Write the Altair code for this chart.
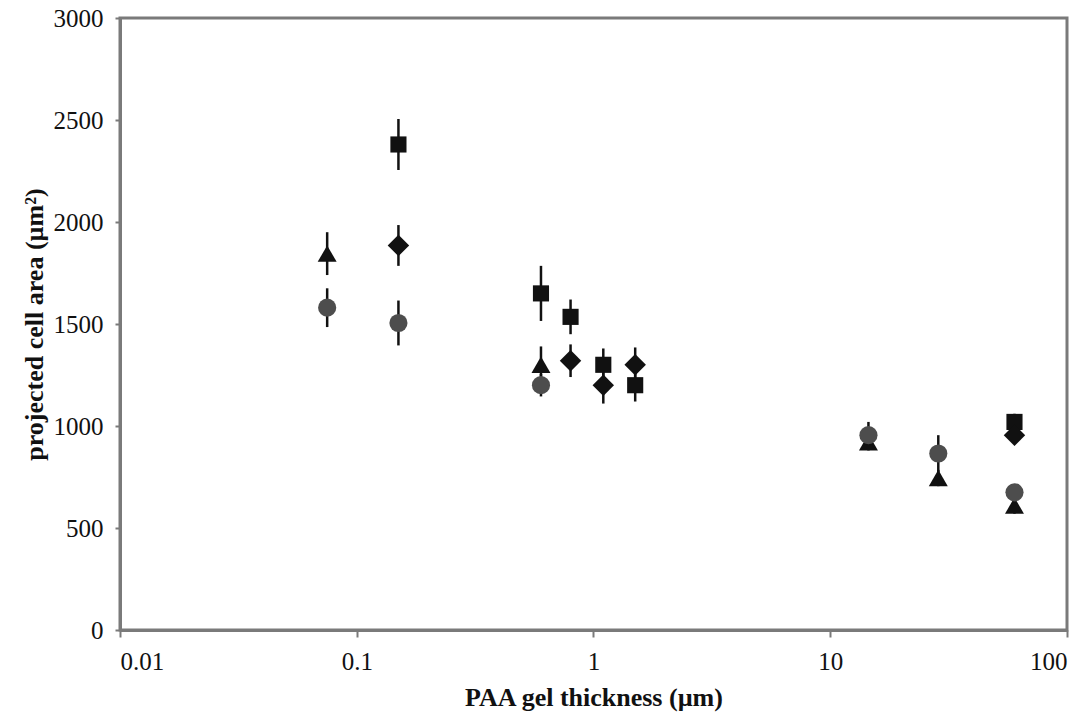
import altair as alt
import pandas as pd

# series data
series = ["square", "square", "square", "square", "square", "square",
          "diamond", "diamond", "diamond", "diamond", "diamond",
          "triangle", "triangle", "triangle", "triangle", "triangle",
          "circle", "circle", "circle", "circle", "circle", "circle"]
thickness = [0.15, 0.6, 0.8, 1.1, 1.5, 60,
             0.15, 0.8, 1.1, 1.5, 60,
             0.075, 0.6, 14.5, 28.6, 60,
             0.075, 0.15, 0.6, 14.5, 28.6, 60]
area = [2380, 1650, 1535, 1300, 1200, 1020,
        1885, 1320, 1200, 1300, 955,
        1845, 1300, 920, 745, 610,
        1580, 1505, 1200, 955, 865, 675]
err = [125, 135, 85, 80, 80, 40,
       100, 80, 90, 85, 40,
       105, 90, 40, 40, 40,
       95, 110, 55, 65, 90, 40]

df = pd.DataFrame({"series": series, "x": thickness, "y": area, "err": err})

# marker style for each series: (vega shape, colour, size)
styles = {
    "square": ("square", "#111111", 260),
    "diamond": ("diamond", "#111111", 460),
    "triangle": ("triangle-up", "#111111", 360),
    "circle": ("circle", "#4d4d4d", 330),
}

xscale = alt.Scale(type="log", domain=[0.01, 100])
yscale = alt.Scale(domain=[0, 3000], nice=False)

xaxis = alt.Axis(title="PAA gel thickness (µm)", values=[0.01, 0.1, 1, 10, 100],
                 format="~g", grid=False, tickSize=7, labelPadding=12, titlePadding=10)
yaxis = alt.Axis(title="projected cell area (µm²)", values=[0, 500, 1000, 1500, 2000, 2500, 3000],
                 format="d", grid=False, tickSize=5, labelPadding=12, titlePadding=6)

base = alt.Chart(df)

bars = base.transform_calculate(
    lo="datum.y - datum.err", hi="datum.y + datum.err"
).mark_rule(color="#111111", strokeWidth=2.5).encode(
    x=alt.X("x:Q", scale=xscale, axis=xaxis),
    y=alt.Y("lo:Q", scale=yscale, axis=yaxis),
    y2="hi:Q",
)

layers = [bars]
for name, (shape, color, size) in styles.items():
    layers.append(
        base.transform_filter(alt.datum.series == name)
        .mark_point(filled=True, opacity=1, shape=shape, color=color, size=size)
        .encode(
            x=alt.X("x:Q", scale=xscale, axis=xaxis),
            y=alt.Y("y:Q", scale=yscale, axis=yaxis),
        )
    )

chart = alt.layer(*layers).properties(
    width=947, height=612,
    autosize=alt.AutoSizeParams(type="none"),
    padding={"left": 120, "top": 18, "right": 24, "bottom": 89},
).configure_view(
    stroke="#7a7a7a", strokeWidth=3
).configure_axis(
    domainColor="#7a7a7a", domainWidth=3, tickColor="#7a7a7a", tickWidth=2,
    labelFont="Liberation Serif", labelFontSize=25, labelColor="#111111",
    titleFont="Liberation Serif", titleFontSize=26, titleFontWeight="bold", titleColor="#111111",
)

chart.save("out.html", embed_options={"renderer": "svg", "actions": False})
